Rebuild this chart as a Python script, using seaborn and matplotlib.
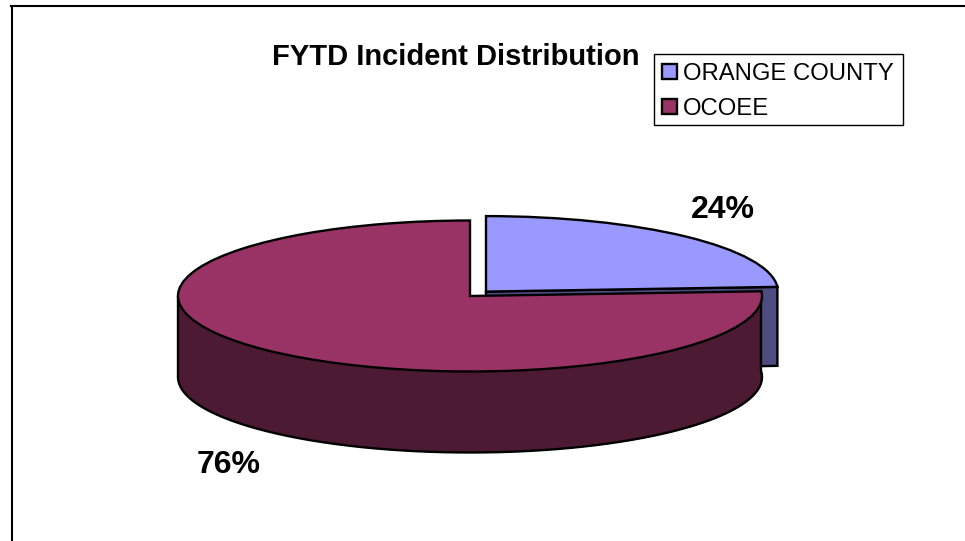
import numpy as np
import matplotlib
matplotlib.use("Agg")
import matplotlib.pyplot as plt
from matplotlib.patches import Rectangle
import seaborn as sns

categories = ["ORANGE COUNTY", "OCOEE"]
values = [24, 76]
top_colors = ["#9999FF", "#993366"]
side_colors = ["#4C4C80", "#4D1A33"]
title = "FYTD Incident Distribution"

sns.set_theme(style="white")
plt.rcParams["font.family"] = ["Liberation Sans", "DejaVu Sans"]

W, H = 965, 541
CX, CY, RX, RY, DEPTH = 470, 296, 292, 75.5, 81
FL, FT, FR, FB = 11.5, 5.5, 970, 545
LW = 1.7

fig = plt.figure(figsize=(W / 100, H / 100), dpi=100, facecolor="white")
ax = fig.add_axes([FL / W, 1 - FB / H, (FR - FL) / W, (FB - FT) / H])
wedges, _ = ax.pie(
    values,
    startangle=90,
    counterclock=False,
    explode=[0.08, 0],
    colors=sns.color_palette(top_colors),
    wedgeprops=dict(edgecolor="black", linewidth=LW, zorder=5),
)
ax.set_aspect("auto")
ax.set_xlim((FL - CX) / RX, (FR - CX) / RX)
ax.set_ylim((CY - FB) / RY, (CY - FT) / RY)
ax.set_frame_on(True)
for s in ax.spines.values():
    s.set_visible(True)
    s.set_color("black")
    s.set_linewidth(1.5)
ax.set_xticks([])
ax.set_yticks([])

d = DEPTH / RY
split = 90 - 360 * values[0] / sum(values)   # boundary angle between slices
mid = np.radians(90 - 180 * values[0] / sum(values))
ex, ey = 0.08 * np.cos(mid), 0.08 * np.sin(mid)
sr = np.radians(split)


def wall(t0, t1, ox, oy, color, z):
    t = np.radians(np.linspace(t0, t1, 200))
    x = ox + np.cos(t)
    y = oy + np.sin(t)
    ax.fill_between(x, y - d, y, color=color, lw=0, zorder=z)
    ax.plot(x, y - d, color="black", lw=LW, zorder=z + 0.1)
    ax.plot([x[0], x[0]], [y[0], y[0] - d], color="black", lw=LW, zorder=z + 0.1)
    ax.plot([x[-1], x[-1]], [y[-1], y[-1] - d], color="black", lw=LW, zorder=z + 0.1)


# orange county: cut face below the slice edge
d_face = (DEPTH - 2) / RY
ax.fill([ex, ex + np.cos(sr), ex + np.cos(sr), ex],
        [ey, ey + np.sin(sr), ey + np.sin(sr) - d_face, ey - d_face],
        facecolor=side_colors[0], edgecolor="black", lw=LW, zorder=1.5)
# ocoee: front wall
wall(180, 360 + split, 0, 0, side_colors[1], 2)

# percentage labels
label_px = [(723, 210), (229, 465)]
for v, (px, py) in zip(values, label_px):
    ax.text((px - CX) / RX, (CY - py) / RY, f"{v}%", ha="center", va="center",
            fontsize=23, fontweight="bold", color="black", zorder=10)

ax.text((456 - CX) / RX, (CY - 57) / RY, title, ha="center", va="center",
        fontsize=21, fontweight="bold", color="black", zorder=10)

# legend box drawn separately so the rows can sit at their own offset
ax.add_patch(Rectangle((654 / W, 1 - 125 / H), 249 / W, 71.5 / H,
                       transform=fig.transFigure, facecolor="white",
                       edgecolor="black", linewidth=1.0, zorder=11, clip_on=False))
leg = ax.legend(
    wedges, categories, loc="upper left",
    bbox_to_anchor=(655 / W, 1 - 55.5 / H), bbox_transform=fig.transFigure,
    fontsize=17.2, frameon=False, labelcolor="black",
    borderaxespad=0, borderpad=0.305, labelspacing=0.55,
    handlelength=0.63, handleheight=0.63, handletextpad=0.25,
)
leg.set_zorder(12)

fig.savefig("out.png", dpi=100, facecolor="white")
